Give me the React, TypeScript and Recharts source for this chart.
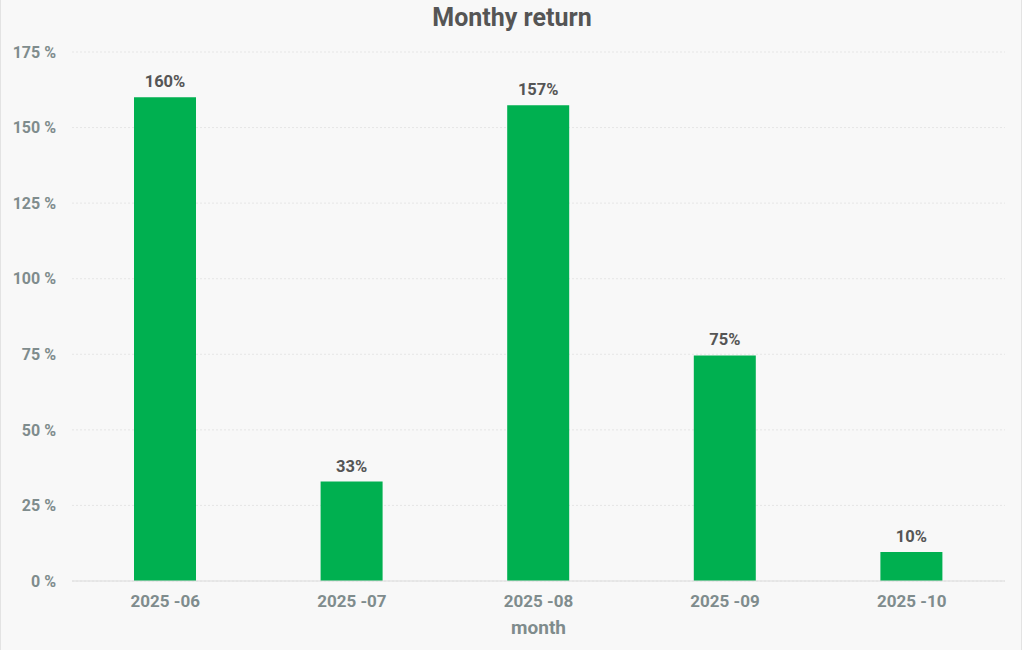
import { BarChart, Bar, XAxis, YAxis, CartesianGrid, LabelList, Label } from 'recharts';

const months = ['2025 -06', '2025 -07', '2025 -08', '2025 -09', '2025 -10'];
const returns = [160, 32.9, 157.4, 74.6, 9.6];
const yTicks = [0, 25, 50, 75, 100, 125, 150, 175];

const data = months.map((m, i) => ({ month: m, value: returns[i] }));

const FONT = 'Roboto, "Noto Sans", sans-serif';
const TICK_COLOR = '#7f8c8d';

export default function App() {
  return (
    <div
      style={{
        position: 'absolute',
        left: 0,
        top: 0,
        width: 1020,
        height: 650,
        background: '#f8f8f8',
        borderLeft: '1px solid #e3e3e3',
        borderRight: '1px solid #e3e3e3',
        fontFamily: FONT,
      }}
    >
      <div
        style={{
          position: 'absolute',
          top: 3,
          left: 0,
          width: 1022,
          textAlign: 'center',
          fontSize: 25,
          fontWeight: 700,
          color: '#555555',
          lineHeight: '30px',
        }}
      >
        Monthy return
      </div>
      <BarChart
        width={1020}
        height={650}
        data={data}
        margin={{ top: 52, right: 16, left: -1, bottom: 0 }}
      >
        <CartesianGrid horizontal vertical={false} stroke="#e6e6e6" strokeDasharray="2 2" />
        <XAxis
          dataKey="month"
          height={69}
          tickLine={false}
          tickSize={0}
          tickMargin={14}
          axisLine={{ stroke: '#dcdcdc' }}
          tick={{ fill: TICK_COLOR, fontSize: 17, fontWeight: 700, fontFamily: FONT }}
        >
          <Label
            value="month"
            position="insideBottom"
            offset={16}
            fill={TICK_COLOR}
            style={{ fontSize: 19, fontWeight: 700, fontFamily: FONT }}
          />
        </XAxis>
        <YAxis
          width={72}
          domain={[0, 175]}
          ticks={yTicks}
          axisLine={false}
          tickLine={false}
          tickSize={0}
          tickMargin={16}
          tickFormatter={(v: number) => `${v} %`}
          tick={{ fill: TICK_COLOR, fontSize: 16, fontWeight: 700, fontFamily: FONT }}
        />
        <Bar dataKey="value" fill="#00b050" barSize={62} isAnimationActive={false}>
          <LabelList
            dataKey="value"
            position="top"
            offset={10}
            formatter={(v: number) => `${Math.round(v)}%`}
            fill="#555555"
            style={{ fontSize: 16.5, fontWeight: 700, fontFamily: FONT }}
          />
        </Bar>
      </BarChart>
    </div>
  );
}
